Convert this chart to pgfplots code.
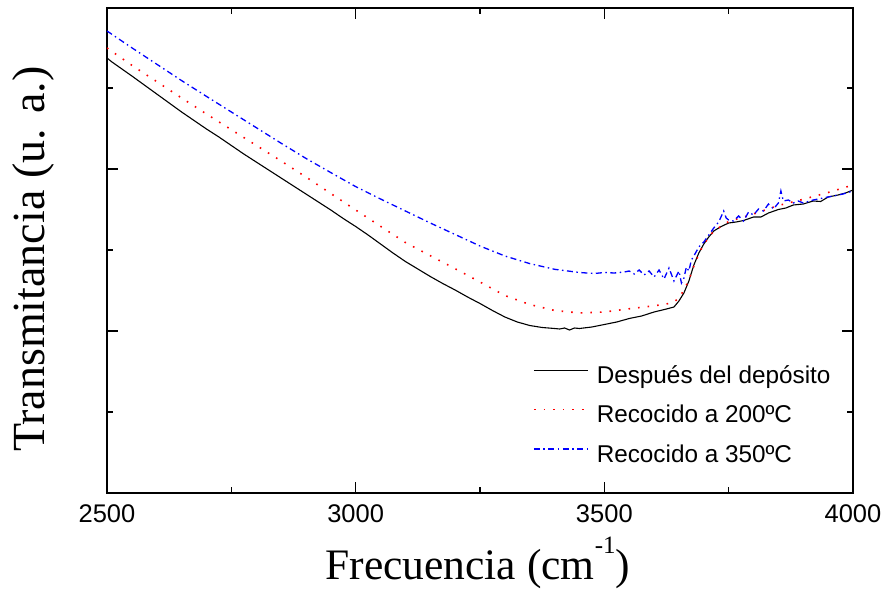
\documentclass[border=0pt]{standalone}
\usepackage{fontspec}
\setmainfont{Liberation Serif}
\newfontfamily\legfont{Liberation Sans}
\newfontfamily\tickfont{Liberation Sans}
\usepackage{pgfplots}
\pgfplotsset{compat=1.18}
\definecolor{cred}{RGB}{255,0,0}
\definecolor{cblue}{RGB}{0,0,255}
\begin{document}
\begin{tikzpicture}
\begin{axis}[
  at={(0,0)}, anchor=south west,
  scale only axis, width=746bp, height=485bp,
  xmin=2500, xmax=4000, ymin=0, ymax=485,
  axis line style={line width=1.6bp},
  every tick/.style={line width=1.3bp, black},
  tick align=inside,
  major tick length=11bp, minor tick length=6bp,
  xtick={2500,3000,3500,4000}, minor xtick={2750,3250,3750},
  ytick={162,324}, minor ytick={81,243,405}, yticklabels={},
  /pgf/number format/assume math mode=true,
  /pgf/number format/1000 sep={},
  xticklabel style={font=\tickfont\fontsize{25.5bp}{28bp}\selectfont, yshift=-8bp},
  xlabel={Frecuencia (cm\raisebox{0.6em}{\fontsize{25bp}{25bp}\selectfont -1})},
  ylabel={Transmitancia (u. a.)},
  xlabel style={font=\fontsize{43.5bp}{50bp}\selectfont, at={(axis description cs:0.497,-0.179)}, anchor=base, inner sep=0pt},
  ylabel style={font=\fontsize{46bp}{52bp}\selectfont, at={(axis description cs:-0.0985,0.482)}, anchor=center, rotate=0},
  legend cell align=left,
  legend image code/.code={\draw[#1] (0bp,7bp) -- (54bp,7bp);},
  legend style={draw=none, fill=none, at={(axis description cs:0.571,0.262)}, anchor=north west,
    inner sep=0pt, column sep=8bp, row sep=17.5bp,
    nodes={inner sep=0pt, text height=17bp, text depth=5bp},
    font=\legfont\fontsize{24.3bp}{28bp}\selectfont},
]
\addplot[black, line width=1.1bp] coordinates {
(2500,435) (2510,431) (2530,424) (2550,417) (2575,408) (2600,399) (2625,390) (2650,381)
(2675,372.5) (2700,364) (2725,356) (2750,347.5) (2775,339) (2800,331) (2825,323) (2850,315)
(2875,307) (2900,299) (2925,291) (2950,283) (2975,274.5) (3000,266.5) (3025,258) (3050,249)
(3075,240) (3100,231.5) (3125,224) (3150,216.5) (3175,209.5) (3200,203) (3225,196) (3250,189.5)
(3275,182.5) (3300,176) (3325,171) (3350,167.5) (3375,165.5) (3400,164.5) (3410,164) (3420,165)
(3430,163) (3440,165) (3450,164.5) (3475,166) (3500,168.5) (3525,171) (3550,174.5) (3575,177)
(3600,181) (3625,184) (3640,186) (3650,192) (3660,200) (3670,212) (3680,228) (3690,240)
(3700,249) (3710,256) (3720,262) (3735,266.5) (3750,270) (3765,271) (3780,272.5) (3800,276)
(3815,276) (3830,280) (3850,283.5) (3865,285) (3880,288) (3900,289) (3920,292) (3935,291.5)
(3950,296) (3970,298) (3985,300) (4000,303)
};
\addlegendentry{Después del depósito}
\addplot[cred, line width=1.6bp, dash pattern=on 1.6bp off 8bp] coordinates {
(2500,445) (2550,427.7) (2600,411.4) (2650,395) (2700,379) (2750,363.3) (2800,347.7) (2850,332)
(2900,316) (2950,299.5) (3000,283) (3050,266.7) (3100,250.5) (3150,237.3) (3200,224.3) (3250,211)
(3300,197.5) (3350,188.5) (3400,182.5) (3450,180) (3500,181) (3550,184.2) (3600,187.2) (3625,189)
(3640,191) (3650,195) (3660,203) (3670,213) (3680,227) (3690,239) (3700,249) (3720,262)
(3750,271.5) (3800,279) (3850,287.5) (3900,293.7) (3950,300.5) (4000,308)
};
\addlegendentry{Recocido a 200ºC}
\addplot[cblue, line width=1.3bp, dash pattern=on 6bp off 3.5bp on 1.5bp off 3.5bp] coordinates {
(2500,462) (2550,445.2) (2600,428.8) (2650,412.4) (2700,396.6) (2750,381) (2800,365.4) (2850,349.8)
(2900,334.6) (2950,320.4) (3000,306.4) (3050,294) (3100,282) (3150,270) (3200,258.5) (3250,247)
(3300,237) (3350,229.4) (3400,223.7) (3450,220.5) (3480,219.5) (3500,220.5) (3520,220) (3540,221)
(3550,222) (3560,219) (3570,223) (3580,218) (3590,222) (3600,216) (3610,223) (3620,214)
(3630,225) (3640,212) (3650,222) (3655,210) (3660,215) (3665,226) (3670,222) (3675,233)
(3680,237) (3690,246) (3700,251) (3710,258) (3720,265) (3730,271) (3740,282) (3745,275)
(3750,273) (3760,272) (3770,277) (3780,272) (3790,281) (3800,278) (3810,284) (3820,282)
(3830,289) (3840,284) (3850,290) (3855,302) (3860,292) (3870,293) (3880,290) (3890,292)
(3900,290) (3920,293) (3940,295) (3960,297) (3980,299) (4000,302)
};
\addlegendentry{Recocido a 350ºC}
\end{axis}
\pgfresetboundingbox
\path[use as bounding box] (-107bp,-97bp) rectangle (783bp,493bp);
\end{tikzpicture}
\end{document}
